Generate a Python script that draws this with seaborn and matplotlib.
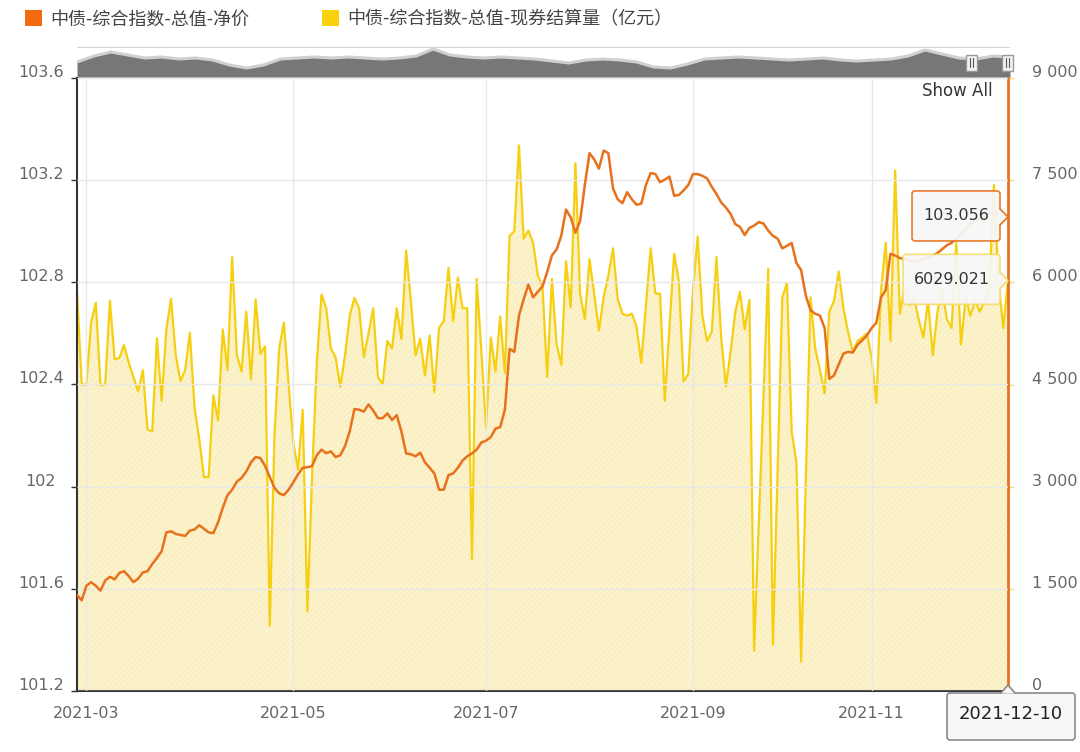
import matplotlib
matplotlib.use("Agg")
import matplotlib.pyplot as plt
import matplotlib.transforms as mtransforms
from matplotlib.patches import FancyBboxPatch, Polygon, Patch, Rectangle
import numpy as np
import pandas as pd
import seaborn as sns

# ---------------- data ----------------
price_net = [
    101.576, 101.555, 101.612, 101.626, 101.612, 101.593, 101.633, 101.647, 101.637, 101.662,
    101.669, 101.650, 101.626, 101.640, 101.664, 101.669, 101.697, 101.721, 101.747, 101.821,
    101.825, 101.815, 101.811, 101.807, 101.828, 101.832, 101.849, 101.835, 101.821,
    101.818, 101.860, 101.917, 101.967, 101.988, 102.020, 102.034, 102.059, 102.095, 102.116,
    102.112, 102.081, 102.038, 101.995, 101.974, 101.967, 101.988, 102.017, 102.048, 102.074,
    102.076, 102.081, 102.123, 102.145, 102.131, 102.138, 102.116, 102.123,
    102.159, 102.216, 102.304, 102.301, 102.294, 102.322, 102.298, 102.268, 102.268, 102.287,
    102.261, 102.280, 102.216, 102.130, 102.127, 102.119, 102.133, 102.095, 102.074, 102.052,
    101.988, 101.988, 102.045, 102.052, 102.074, 102.102, 102.119, 102.130,
    102.145, 102.173, 102.180, 102.194, 102.227, 102.233, 102.301, 102.539, 102.528, 102.670,
    102.734, 102.791, 102.741, 102.763, 102.784, 102.841, 102.905, 102.929, 102.983, 103.085,
    103.054, 102.994, 103.040, 103.181, 103.306, 103.281, 103.245, 103.316, 103.306,
    103.167, 103.125, 103.110, 103.153, 103.125, 103.104, 103.108, 103.181, 103.228, 103.224,
    103.192, 103.202, 103.214, 103.139, 103.142, 103.160, 103.181, 103.224, 103.224, 103.217,
    103.207, 103.174, 103.146, 103.113, 103.093, 103.068, 103.028, 103.017,
    102.985, 103.013, 103.022, 103.036, 103.030, 103.003, 102.982, 102.971, 102.933, 102.943,
    102.954, 102.876, 102.848, 102.748, 102.691, 102.677, 102.670, 102.621, 102.422, 102.436,
    102.478, 102.521, 102.528, 102.525, 102.556, 102.573, 102.592, 102.621,
    102.642, 102.741, 102.770, 102.912, 102.905, 102.895, 102.890, 102.885, 102.880, 102.885,
    102.890, 102.895, 102.905, 102.915, 102.930, 102.945, 102.955, 102.970, 102.990, 103.010,
    103.030, 103.040, 103.050, 103.060, 103.070, 103.070, 103.065, 103.060, 103.056,
]

settle_volume = [
    5860, 4500, 4500, 5410, 5700, 4490, 4500, 5730, 4870, 4890,
    5080, 4820, 4610, 4400, 4710, 3840, 3810, 5180, 4260, 5300,
    5760, 4930, 4550, 4710, 5260, 4160, 3700, 3140, 3140,
    4340, 3970, 5310, 4710, 6370, 4930, 4690, 5570, 4580, 5750,
    4950, 5060, 960, 3760, 5030, 5410, 4500, 3650, 3250, 4130,
    1170, 3170, 4820, 5820, 5620, 5030, 4900, 4470,
    4930, 5510, 5770, 5620, 4900, 5250, 5620, 4610, 4500, 5140,
    5030, 5620, 5170, 6470, 5730, 4930, 5170, 4630, 5220, 4390,
    5330, 5430, 6210, 5430, 6070, 5620, 5620, 1940,
    6050, 4980, 3860, 5190, 4690, 5500, 4670, 6680, 6750, 8010,
    6640, 6760, 6580, 6100, 5940, 4610, 6050, 5090, 4790, 6310,
    5630, 7750, 5830, 5460, 6340, 5830, 5290, 5780, 6100,
    6500, 5750, 5540, 5510, 5540, 5350, 4820, 5670, 6500, 5840,
    5830, 4260, 5330, 6420, 6020, 4550, 4650, 5890, 6670, 5510,
    5140, 5270, 6370, 5190, 4470, 4980, 5570, 5860,
    5310, 5740, 590, 2460, 4330, 6200, 680, 3230, 5780, 5990,
    3810, 3360, 430, 3110, 5780, 5030, 4710, 4370, 5570, 5730,
    6160, 5620, 5270, 4980, 5140, 5190, 5250, 4900,
    4230, 5890, 6580, 5140, 7640, 5540, 5940, 5670, 5780, 5460,
    5190, 5730, 4930, 5570, 5890, 5460, 5330, 6580, 5090, 5780,
    5510, 5730, 5570, 5730, 5890, 7430, 5990, 5330, 6029.021,
]

month_tick_index = [2, 46, 87, 131, 169]
month_tick_labels = ["2021-03", "2021-05", "2021-07", "2021-09", "2021-11"]
price_ticks = [101.2, 101.6, 102.0, 102.4, 102.8, 103.2, 103.6]
price_tick_labels = ["101.2", "101.6", "102", "102.4", "102.8", "103.2", "103.6"]
volume_ticks = [0, 1500, 3000, 4500, 6000, 7500, 9000]
volume_tick_labels = ["0", "1 500", "3 000", "4 500", "6 000", "7 500", "9 000"]
last_date_label = "2021-12-10"
price_tooltip = "103.056"
volume_tooltip = "6029.021"
series_names = ["中债-综合指数-总值-净价", "中债-综合指数-总值-现券结算量（亿元）"]
navigator_history = [15, 21, 25, 22, 19, 20, 18, 19, 17, 12, 9, 12, 18, 19, 20, 19,
                     20, 19, 18, 19, 21, 28, 22, 20, 19, 20, 19, 18, 16, 14, 17, 18,
                     17, 15, 10, 9, 13, 18, 19, 20, 19, 18, 17, 18, 19, 17, 16, 17,
                     18, 21, 27, 23, 19, 18, 21, 20]

# ---------------- style ----------------
ORANGE = "#e8711c"
YELLOW = "#f6cf10"
GRID = "#e8e8e8"
LABEL = "#666666"

sns.set_theme(style="white")
plt.rcParams['font.family'] = ['Noto Sans CJK SC', 'DejaVu Sans']
plt.rcParams['hatch.linewidth'] = 0.4
tick_font = ['DejaVu Sans']

W, H = 1080, 752
fig = plt.figure(figsize=(W / 100, H / 100), dpi=100)
fig.patch.set_facecolor("white")


def rect(x0, y0, x1, y1):
    return [x0 / W, 1 - y1 / H, (x1 - x0) / W, (y1 - y0) / H]


df = pd.DataFrame({"idx": np.arange(len(price_net)), "price": price_net, "volume": settle_volume})
N = len(df)

ax = fig.add_axes(rect(77, 78, 1008, 691))
ax_vol = ax.twinx()
ax.set_zorder(3)
ax.patch.set_visible(False)
ax_vol.set_zorder(2)
ax_vol.patch.set_facecolor("white")

# volume (right axis)
ax_vol.fill_between(df["idx"], df["volume"], 0, facecolor="#fcf3cd", edgecolor="#f4e6aa",
                    hatch="//////", linewidth=0, zorder=1)
sns.lineplot(data=df, x="idx", y="volume", ax=ax_vol, color=YELLOW, lw=1.6,
             estimator=None, zorder=2, legend=False)
ax_vol.set_ylim(0, 9000)
ax_vol.set_yticks(volume_ticks)
ax_vol.set_yticklabels(volume_tick_labels)

# price (left axis)
sns.lineplot(data=df, x="idx", y="price", ax=ax, color=ORANGE, lw=1.8,
             estimator=None, zorder=4, legend=False)
ax.set_ylim(101.2, 103.6)
ax.set_yticks(price_ticks)
ax.set_yticklabels(price_tick_labels)
ax.set_xlim(0, N - 1)
ax.set_xticks(month_tick_index)
ax.set_xticklabels(month_tick_labels)
ax.grid(True, color=GRID, lw=1)
ax.set_axisbelow(False)
for a in (ax, ax_vol):
    a.set_xlabel("")
    a.set_ylabel("")

# spines
for s in ["top", "right"]:
    ax.spines[s].set_visible(False)
ax.spines["left"].set_color("#333333")
ax.spines["left"].set_linewidth(1.5)
ax.spines["bottom"].set_color("#333333")
ax.spines["bottom"].set_linewidth(1.5)
for s in ["top", "left", "bottom"]:
    ax_vol.spines[s].set_visible(False)
ax_vol.spines["right"].set_color(ORANGE)
ax_vol.spines["right"].set_linewidth(2)

# ticks
ax.tick_params(axis="y", left=True, length=4.5, width=1, color="#333333", pad=21.5,
               labelcolor=LABEL, labelsize=11.5)
ax.tick_params(axis="x", bottom=False, length=0, pad=16.5, labelcolor=LABEL, labelsize=11.5)
ax_vol.tick_params(axis="y", right=True, length=4.5, width=1, color="#f3dc7a", pad=13,
                   labelcolor=LABEL, labelsize=11.5)
up = mtransforms.ScaledTranslation(0, 7 / 100, fig.dpi_scale_trans)
for t in ax.get_yticklabels():
    t.set_family(tick_font)
    t.set_ha("center")
    t.set_transform(t.get_transform() + up)
for t in ax_vol.get_yticklabels():
    t.set_family(tick_font)
    t.set_ha("left")
    t.set_transform(t.get_transform() + up)
for t in ax.get_xticklabels():
    t.set_family(tick_font)
    t.set_va("center")

# Show All
ax.text(0.946, 0.979, "Show All", transform=ax.transAxes, ha="center", va="center",
        fontsize=12, color="#333333", family=["DejaVu Sans"], zorder=10)

# ---------------- navigator ----------------
ax_nav = fig.add_axes(rect(77, 47, 1010, 77))
nx = np.arange(len(navigator_history))
ax_nav.fill_between(nx, navigator_history, 0, color="#777777", lw=0)
ax_nav.plot(nx, navigator_history, color="#d0d0d0", lw=2.2)
ax_nav.set_xlim(0, len(navigator_history) - 1)
ax_nav.set_ylim(0, 30)
ax_nav.set_xticks([])
ax_nav.set_yticks([])
for s in ax_nav.spines.values():
    s.set_visible(False)
ax_nav.axhline(30, color="#cccccc", lw=1.2)
for hx in (0.959, 0.997):
    ax_nav.add_patch(Rectangle((hx - 0.006, 0.2), 0.012, 0.55, transform=ax_nav.transAxes,
                               facecolor="#f2f2f2", edgecolor="#999999", lw=1, zorder=5,
                               clip_on=False))
    for dx in (-0.0018, 0.0018):
        ax_nav.plot([hx + dx, hx + dx], [0.33, 0.62], transform=ax_nav.transAxes,
                    color="#555555", lw=0.8, zorder=6, clip_on=False)

# ---------------- legend ----------------
handles = [Patch(facecolor="#f26b0f", edgecolor="none"), Patch(facecolor="#f8d20c", edgecolor="none")]
leg = fig.legend(handles, series_names, loc="upper left", bbox_to_anchor=(0.008, 1.008),
                 ncol=2, frameon=False, handlelength=0.95, handleheight=0.95,
                 handletextpad=0.45, columnspacing=4.0, fontsize=13)
for t in leg.get_texts():
    t.set_color("#444444")

# ---------------- tooltips ----------------
ident = mtransforms.IdentityTransform()
px, py = ax.transData.transform((N - 1, price_net[-1]))
vx, vy = ax_vol.transData.transform((N - 1, settle_volume[-1]))


def tooltip(x, y, text, edge, left):
    x0, x1 = x + left, x - 8
    box = FancyBboxPatch((x0, y - 24), x1 - x0, 50, boxstyle="round,pad=0,rounding_size=3",
                         facecolor="#f7f7f7", edgecolor=edge, lw=1.2, alpha=0.92,
                         transform=ident, zorder=20)
    fig.add_artist(box)
    tri = Polygon([(x1 - 1, y + 8), (x, y), (x1 - 1, y - 8)], closed=True, facecolor="#f7f7f7",
                  edgecolor="none", transform=ident, zorder=21)
    fig.add_artist(tri)
    fig.add_artist(plt.Line2D([x1, x, x1], [y + 8, y, y - 8], color=edge, lw=1.2,
                              transform=ident, zorder=21))
    fig.text((x0 + x1) / 2, y + 1, text, transform=ident, ha="center", va="center",
             fontsize=11.5, color="#333333", family=["DejaVu Sans"], zorder=22)


tooltip(px, py, price_tooltip, ORANGE, -96)
tooltip(vx, vy, volume_tooltip, "#f3dc6a", -105)

# date label box
bx = px
by = ax.transAxes.transform((0, 0))[1]
dbox = FancyBboxPatch((bx - 61, by - 49), 128, 47, boxstyle="round,pad=0,rounding_size=3",
                      facecolor="#f7f7f7", edgecolor="#8a8a8a", lw=1.2, transform=ident, zorder=20)
fig.add_artist(dbox)
fig.add_artist(Polygon([(bx - 7, by - 2.5), (bx, by + 6), (bx + 7, by - 2.5)], closed=True,
                       facecolor="#f7f7f7", edgecolor="none", transform=ident, zorder=21))
fig.add_artist(plt.Line2D([bx - 7, bx, bx + 7], [by - 2, by + 6, by - 2], color="#8a8a8a", lw=1.2,
                          transform=ident, zorder=21))
fig.text(bx + 3, by - 23, last_date_label, transform=ident, ha="center", va="center",
         fontsize=13, color="#222222", family=tick_font, zorder=22)

fig.savefig("out.png", dpi=100)
